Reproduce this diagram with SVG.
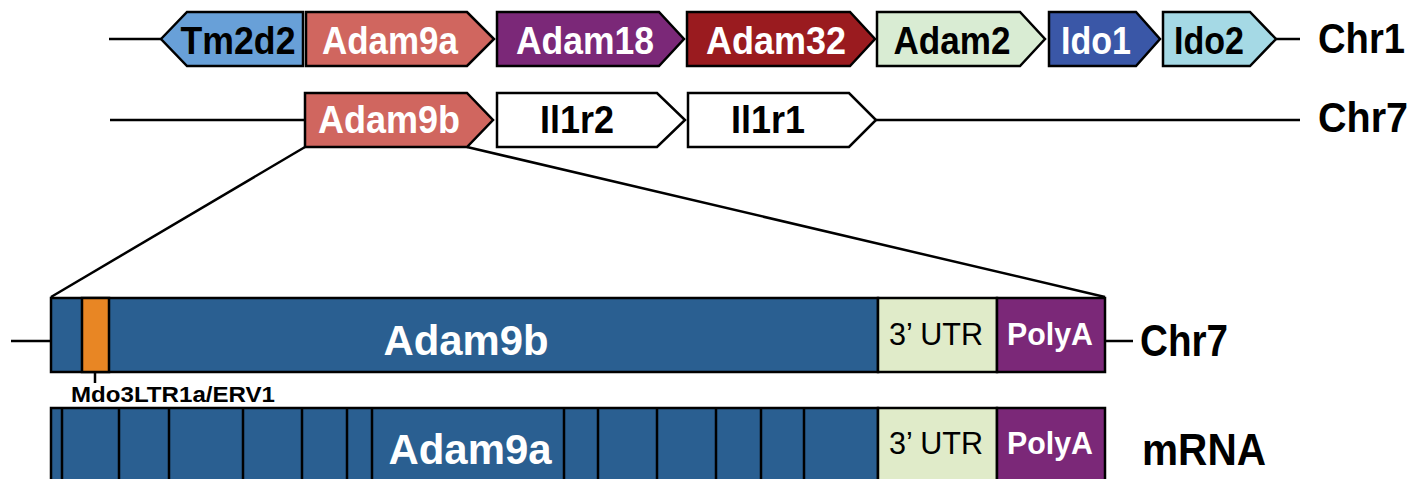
<svg xmlns="http://www.w3.org/2000/svg" width="1424" height="479" viewBox="0 0 1424 479">
<style>
.g{stroke:#000;stroke-width:2.5;stroke-linejoin:miter}
.ln{stroke:#000;stroke-width:2.5;fill:none}
.t{font-family:"Liberation Sans",Arial,sans-serif;font-weight:bold;font-size:38px;text-anchor:middle}
.w{fill:#fff}
.k{fill:#000}
.lab{font-family:"Liberation Sans",Arial,sans-serif;font-weight:bold;font-size:42px;fill:#000}
.lab2{font-family:"Liberation Sans",Arial,sans-serif;font-weight:bold;font-size:45px;fill:#000}
.big{font-family:"Liberation Sans",Arial,sans-serif;font-weight:bold;font-size:43px;fill:#fff;text-anchor:middle}
.utr{font-family:"Liberation Sans",Arial,sans-serif;font-size:32px;fill:#000;text-anchor:middle}
.pa{font-family:"Liberation Sans",Arial,sans-serif;font-weight:bold;font-size:31px;fill:#fff;text-anchor:middle}
.blue{fill:#2a5f91}
</style>
<rect width="1424" height="479" fill="#fff"/>
<g id="connectors">
<line class="ln" x1="109" y1="39" x2="161" y2="39"/>
<line class="ln" x1="1276" y1="39" x2="1300" y2="39"/>
<line class="ln" x1="110" y1="120" x2="305" y2="120"/>
<line class="ln" x1="876" y1="120" x2="1300" y2="120"/>
<line class="ln" x1="305" y1="147" x2="51" y2="297"/>
<line class="ln" x1="467" y1="147" x2="1105" y2="297"/>
<line class="ln" x1="11" y1="341" x2="51" y2="341"/>
<line class="ln" x1="1105" y1="341" x2="1133" y2="341"/>
<line class="ln" x1="95" y1="372" x2="95" y2="383"/>
</g>
<g id="Tm2d2"><polygon class="g" fill="#68a0d8" points="161,39 187,12 303,12 303,66 187,66"/><text class="t k" x="238" y="54" textLength="115" lengthAdjust="spacingAndGlyphs">Tm2d2</text></g>
<g id="Adam9a"><polygon class="g" fill="#d0665f" points="306,12 467,12 494,39 467,66 306,66"/><text class="t w" x="390" y="54" textLength="136" lengthAdjust="spacingAndGlyphs">Adam9a</text></g>
<g id="Adam18"><polygon class="g" fill="#7b2878" points="497,12 659,12 684,39 659,66 497,66"/><text class="t w" x="585" y="54" textLength="138" lengthAdjust="spacingAndGlyphs">Adam18</text></g>
<g id="Adam32"><polygon class="g" fill="#9a1b1f" points="687,12 850,12 875,39 850,66 687,66"/><text class="t w" x="776" y="54" textLength="140" lengthAdjust="spacingAndGlyphs">Adam32</text></g>
<g id="Adam2"><polygon class="g" fill="#d9ecd3" points="877,12 1020,12 1045,39 1020,66 877,66"/><text class="t k" x="952" y="54" textLength="117" lengthAdjust="spacingAndGlyphs">Adam2</text></g>
<g id="Ido1"><polygon class="g" fill="#3a57a7" points="1049,12 1136,12 1160,39 1136,66 1049,66"/><text class="t w" x="1096" y="54" textLength="70" lengthAdjust="spacingAndGlyphs">Ido1</text></g>
<g id="Ido2"><polygon class="g" fill="#a5d9e5" points="1163,12 1250,12 1276,39 1250,66 1163,66"/><text class="t k" x="1209" y="54" textLength="70" lengthAdjust="spacingAndGlyphs">Ido2</text></g>
<g id="Chr1"><text class="lab" x="1318" y="53" textLength="87" lengthAdjust="spacingAndGlyphs">Chr1</text></g>
<g id="Adam9b"><polygon class="g" fill="#d0665f" points="305,93 467,93 493,120 467,147 305,147"/><text class="t w" x="389" y="133" textLength="142" lengthAdjust="spacingAndGlyphs">Adam9b</text></g>
<g id="Il1r2"><polygon class="g" fill="#fff" points="497,93 657,93 685,120 657,147 497,147"/><text class="t k" x="577" y="133" textLength="74" lengthAdjust="spacingAndGlyphs">Il1r2</text></g>
<g id="Il1r1"><polygon class="g" fill="#fff" points="688,93 849,93 876,120 849,147 688,147"/><text class="t k" x="768" y="133" textLength="74" lengthAdjust="spacingAndGlyphs">Il1r1</text></g>
<g id="Chr7top"><text class="lab" x="1318" y="132" textLength="90" lengthAdjust="spacingAndGlyphs">Chr7</text></g>
<g id="gene-Chr7">
<rect class="g blue" x="51" y="298" width="827" height="74"/>
<rect class="g" fill="#e88624" x="82" y="298" width="27" height="74"/>
<rect class="g" fill="#e0ebc9" x="878" y="298" width="119" height="74"/>
<rect class="g" fill="#7b2878" x="997" y="298" width="108" height="74"/>
<text class="big" x="466" y="355" textLength="165" lengthAdjust="spacingAndGlyphs">Adam9b</text>
<text class="utr" x="936" y="345" textLength="94" lengthAdjust="spacingAndGlyphs">3’ UTR</text>
<text class="pa" x="1050" y="345" textLength="86" lengthAdjust="spacingAndGlyphs">PolyA</text>
<text x="1140" y="356" class="lab2" textLength="88" lengthAdjust="spacingAndGlyphs">Chr7</text>
</g>
<g id="Mdo3LTR1a"><text x="71" y="402" font-family="Liberation Sans, Arial, sans-serif" font-weight="bold" font-size="22" textLength="204" lengthAdjust="spacingAndGlyphs">Mdo3LTR1a/ERV1</text></g>
<g id="mRNA">
<rect class="g blue" x="51" y="408" width="827" height="80"/>
<g class="ln">
<line x1="62" y1="408" x2="62" y2="479"/><line x1="119" y1="408" x2="119" y2="479"/><line x1="169" y1="408" x2="169" y2="479"/><line x1="243" y1="408" x2="243" y2="479"/><line x1="302" y1="408" x2="302" y2="479"/><line x1="347" y1="408" x2="347" y2="479"/><line x1="372" y1="408" x2="372" y2="479"/><line x1="564" y1="408" x2="564" y2="479"/><line x1="598" y1="408" x2="598" y2="479"/><line x1="657" y1="408" x2="657" y2="479"/><line x1="716" y1="408" x2="716" y2="479"/><line x1="761" y1="408" x2="761" y2="479"/><line x1="804" y1="408" x2="804" y2="479"/>
</g>
<rect class="g" fill="#e0ebc9" x="878" y="408" width="119" height="80"/>
<rect class="g" fill="#7b2878" x="997" y="408" width="108" height="80"/>
<text class="big" x="470" y="464" textLength="163" lengthAdjust="spacingAndGlyphs">Adam9a</text>
<text class="utr" x="936" y="454" textLength="94" lengthAdjust="spacingAndGlyphs">3’ UTR</text>
<text class="pa" x="1050" y="454" textLength="86" lengthAdjust="spacingAndGlyphs">PolyA</text>
<text x="1142" y="465" class="lab2" textLength="124" lengthAdjust="spacingAndGlyphs">mRNA</text>
</g>
</svg>
